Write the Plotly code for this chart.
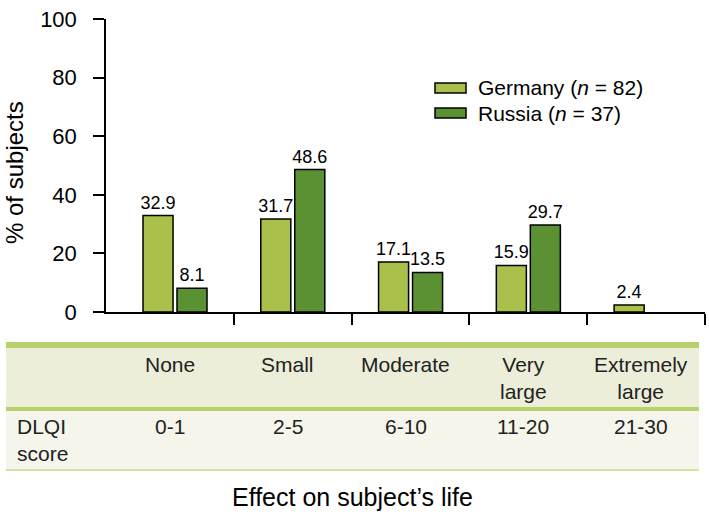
import plotly.graph_objects as go

# datos
categorias = ['None', 'Small', 'Moderate', 'Very<br>large', 'Extremely<br>large']
puntuacion_dlqi = ['0-1', '2-5', '6-10', '11-20', '21-30']
alemania = [32.9, 31.7, 17.1, 15.9, 2.4]
rusia = [8.1, 48.6, 13.5, 29.7, None]
series = ['Germany (<i>n</i> = 82)', 'Russia (<i>n</i> = 37)']
y_ticks = [0, 20, 40, 60, 80, 100]

VERDE_CLARO = '#a9c14a'
VERDE_OSCURO = '#5b9133'
LINEA_TABLA = '#b8d16c'
FUENTE = 'Arial, Liberation Sans, sans-serif'

W, H = 709, 514
L, R, T, B = 106, 4, 19, 202
pos = list(range(len(categorias)))


def px_x(px):
    return (px - L) / (W - L - R)


def px_y(py):
    return (H - B - py) / (H - T - B)


fig = go.Figure()
for nombre, valores, color in [(series[0], alemania, VERDE_CLARO),
                               (series[1], rusia, VERDE_OSCURO)]:
    fig.add_trace(go.Bar(
        x=pos, y=valores, name=nombre, showlegend=False,
        marker=dict(color=color, line=dict(color='black', width=1.5)),
        text=[f'{v:.1f}' if v is not None else '' for v in valores],
        textposition='outside', cliponaxis=False, constraintext='none',
        textfont=dict(size=18, color='black', family=FUENTE),
    ))

shapes = []
annotations = []

# leyenda hecha a mano (rectángulos anchos como en el original)
for i, (nombre, color) in enumerate(zip(series, [VERDE_CLARO, VERDE_OSCURO])):
    yc = 88 + i * 25
    shapes.append(dict(type='rect', xref='paper', yref='paper',
                       x0=px_x(435), x1=px_x(466), y0=px_y(yc + 5), y1=px_y(yc - 5),
                       fillcolor=color, line=dict(color='black', width=1.5)))
    annotations.append(dict(text=nombre, xref='paper', yref='paper',
                            x=px_x(476), y=px_y(yc), xanchor='left', yanchor='middle',
                            showarrow=False, font=dict(size=21, color='black')))

# tabla bajo el eje
tabla = [
    (342, 348, LINEA_TABLA),
    (348, 407, '#eceed9'),
    (407, 411, LINEA_TABLA),
    (411, 469, '#f5f5eb'),
    (469, 471, '#d3e2a4'),
]
for y0, y1, c in tabla:
    shapes.append(dict(type='rect', xref='paper', yref='paper', layer='below',
                       x0=px_x(6), x1=px_x(699), y0=px_y(y1), y1=px_y(y0),
                       fillcolor=c, line=dict(width=0)))

for p, cat, score in zip(pos, categorias, puntuacion_dlqi):
    annotations.append(dict(text=cat, x=p, xref='x', xshift=-5, y=px_y(351), yref='paper',
                            xanchor='center', yanchor='top', showarrow=False,
                            font=dict(size=21, color='#222222')))
    annotations.append(dict(text=score, x=p, xref='x', xshift=-5, y=px_y(413), yref='paper',
                            xanchor='center', yanchor='top', showarrow=False,
                            font=dict(size=21, color='#222222')))

annotations.append(dict(text='DLQI<br>score', xref='paper', yref='paper',
                        x=px_x(15), y=px_y(413), xanchor='left', yanchor='top',
                        align='left', showarrow=False, font=dict(size=21, color='#222222')))
annotations.append(dict(text='Effect on subject’s life', xref='paper', yref='paper',
                        x=px_x(352), y=px_y(497), xanchor='center', yanchor='middle',
                        showarrow=False, font=dict(size=25, color='black')))
annotations.append(dict(text='% of subjects', xref='paper', yref='paper',
                        x=px_x(14), y=px_y(173), xanchor='center', yanchor='middle',
                        textangle=-90, showarrow=False, font=dict(size=24, color='black')))

fig.update_layout(
    width=W, height=H,
    margin=dict(l=L, r=R, t=T, b=B),
    paper_bgcolor='white', plot_bgcolor='white',
    font=dict(family=FUENTE, color='black'),
    barmode='group', bargap=0.423, bargroupgap=0.116,
    shapes=shapes, annotations=annotations,
    xaxis=dict(range=[-0.586, 4.5], showgrid=False, zeroline=False,
               showline=True, linecolor='black', linewidth=1.5,
               tickmode='array', tickvals=[p + 0.5 for p in pos],
               ticks='outside', ticklen=11, tickwidth=1.5, tickcolor='black',
               showticklabels=False),
    yaxis=dict(range=[0, 100], showgrid=False, zeroline=False,
               showline=True, linecolor='black', linewidth=1.5,
               tickmode='array', tickvals=y_ticks,
               ticks='outside', ticklen=11, tickwidth=1.5, tickcolor='black',
               ticklabelstandoff=12,
               tickfont=dict(size=22, color='black')),
)

# sin el margen por defecto del body, la figura ocupa la ventana exacta
fig.write_html('out.html', config={'displayModeBar': False},
               post_script="document.body.style.margin='0';")
